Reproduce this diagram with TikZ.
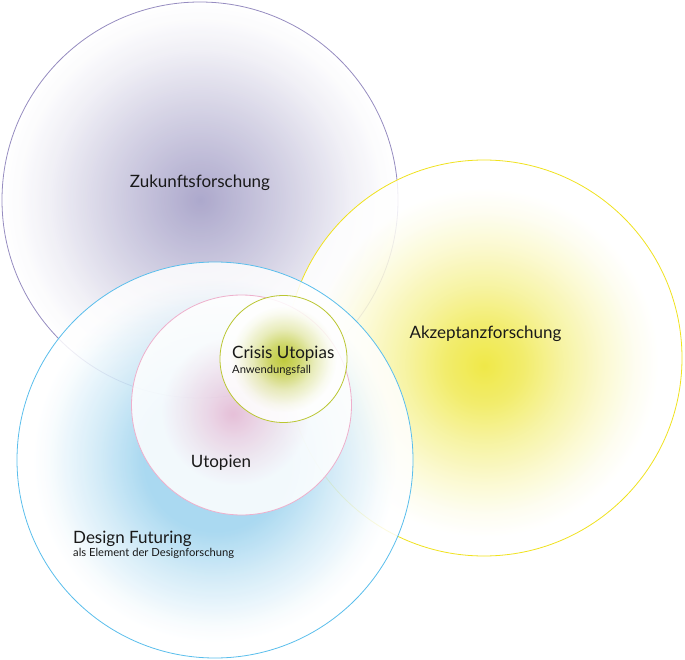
\documentclass[tikz,border=0pt]{standalone}
\usepackage{fontspec}
\setmainfont{Lato}

% Farben der Kreise
\definecolor{zukfarbe}{RGB}{158,153,195}
\definecolor{zukrand}{RGB}{150,140,192}
\definecolor{akzfarbe}{RGB}{236,228,40}
\definecolor{akzrand}{RGB}{240,226,30}
\definecolor{dfarbe}{RGB}{155,210,238}
\definecolor{drand}{RGB}{90,190,236}
\definecolor{utofarbe}{RGB}{240,188,212}
\definecolor{utorand}{RGB}{238,176,204}
\definecolor{crifarbe}{RGB}{182,194,26}
\definecolor{crirand}{RGB}{186,198,50}
\definecolor{schrift}{RGB}{25,25,25}

% Verlaeufe (25bp = Kreisrand)
\pgfdeclareradialshading{zukverlauf}{\pgfpoint{0bp}{0bp}}{color(0bp)=(zukfarbe); color(6bp)=(zukfarbe!75!white); color(13bp)=(zukfarbe!45!white); color(19bp)=(zukfarbe!18!white); color(23bp)=(zukfarbe!4!white); color(25bp)=(white); color(50bp)=(white)}
\pgfdeclareradialshading{akzverlauf}{\pgfpoint{0bp}{-1bp}}{color(0bp)=(akzfarbe); color(5bp)=(akzfarbe!80!white); color(10bp)=(akzfarbe!50!white); color(15bp)=(akzfarbe!25!white); color(19bp)=(akzfarbe!8!white); color(22bp)=(white); color(50bp)=(white)}
\pgfdeclareradialshading{dverlauf}{\pgfpoint{0bp}{0bp}}{color(0bp)=(dfarbe); color(9bp)=(dfarbe); color(15bp)=(dfarbe!50!white); color(21bp)=(dfarbe!8!white); color(23bp)=(white); color(50bp)=(white)}
\pgfdeclareradialshading{utoverlauf}{\pgfpoint{-2bp}{-2bp}}{color(0bp)=(utofarbe); color(6bp)=(utofarbe!60!white); color(13bp)=(utofarbe!20!white); color(17bp)=(white); color(50bp)=(white)}
\pgfdeclareradialshading{criverlauf}{\pgfpoint{0bp}{0bp}}{color(0bp)=(crifarbe); color(6bp)=(crifarbe!75!white); color(12bp)=(crifarbe!35!white); color(18bp)=(crifarbe!8!white); color(21bp)=(white); color(50bp)=(white)}

\tikzset{
  kreis/.style={circle, inner sep=0pt, shade, fill opacity=0.85, line width=0.8pt},
  titel/.style={font=\fontsize{17}{20}\selectfont, text=schrift, inner sep=0pt, anchor=base},
  untertitel/.style={font=\fontsize{11.2}{13}\selectfont, text=schrift, inner sep=0pt, anchor=base west}
}

\begin{document}
\begin{tikzpicture}[x=1pt,y=-1pt]
\useasboundingbox (0,0) rectangle (685,660);

% Die drei grossen Kreise
\node[kreis, draw=zukrand, shading=zukverlauf, minimum size=396pt] (zuk) at (200,200) {};
\node[kreis, draw=akzrand, shading=akzverlauf, minimum size=396pt] (akz) at (484,358) {};
\node[kreis, draw=drand, shading=dverlauf, minimum size=396pt] (df) at (215,460) {};

% Utopien und Crisis Utopias
\node[kreis, draw=utorand, shading=utoverlauf, minimum size=220pt] (uto) at (241.5,405) {};
\node[kreis, draw=crirand, shading=criverlauf, minimum size=127pt] (cri) at (283.5,359) {};

% Beschriftungen
\node[titel] (zukText) at (200,188) {Zukunftsforschung};
\node[titel] (akzText) at (485.5,338) {Akzeptanzforschung};
\node[titel] (utoText) at (221,467) {Utopien};
\node[titel, anchor=base west] (criText) at (232,358) {Crisis Utopias};
\node[untertitel] (criSub) at (232,373) {Anwendungsfall};
\node[titel, anchor=base west] (dfText) at (73,543) {Design Futuring};
\node[untertitel] (dfSub) at (73,556) {als Element der Designforschung};
\end{tikzpicture}
\end{document}
